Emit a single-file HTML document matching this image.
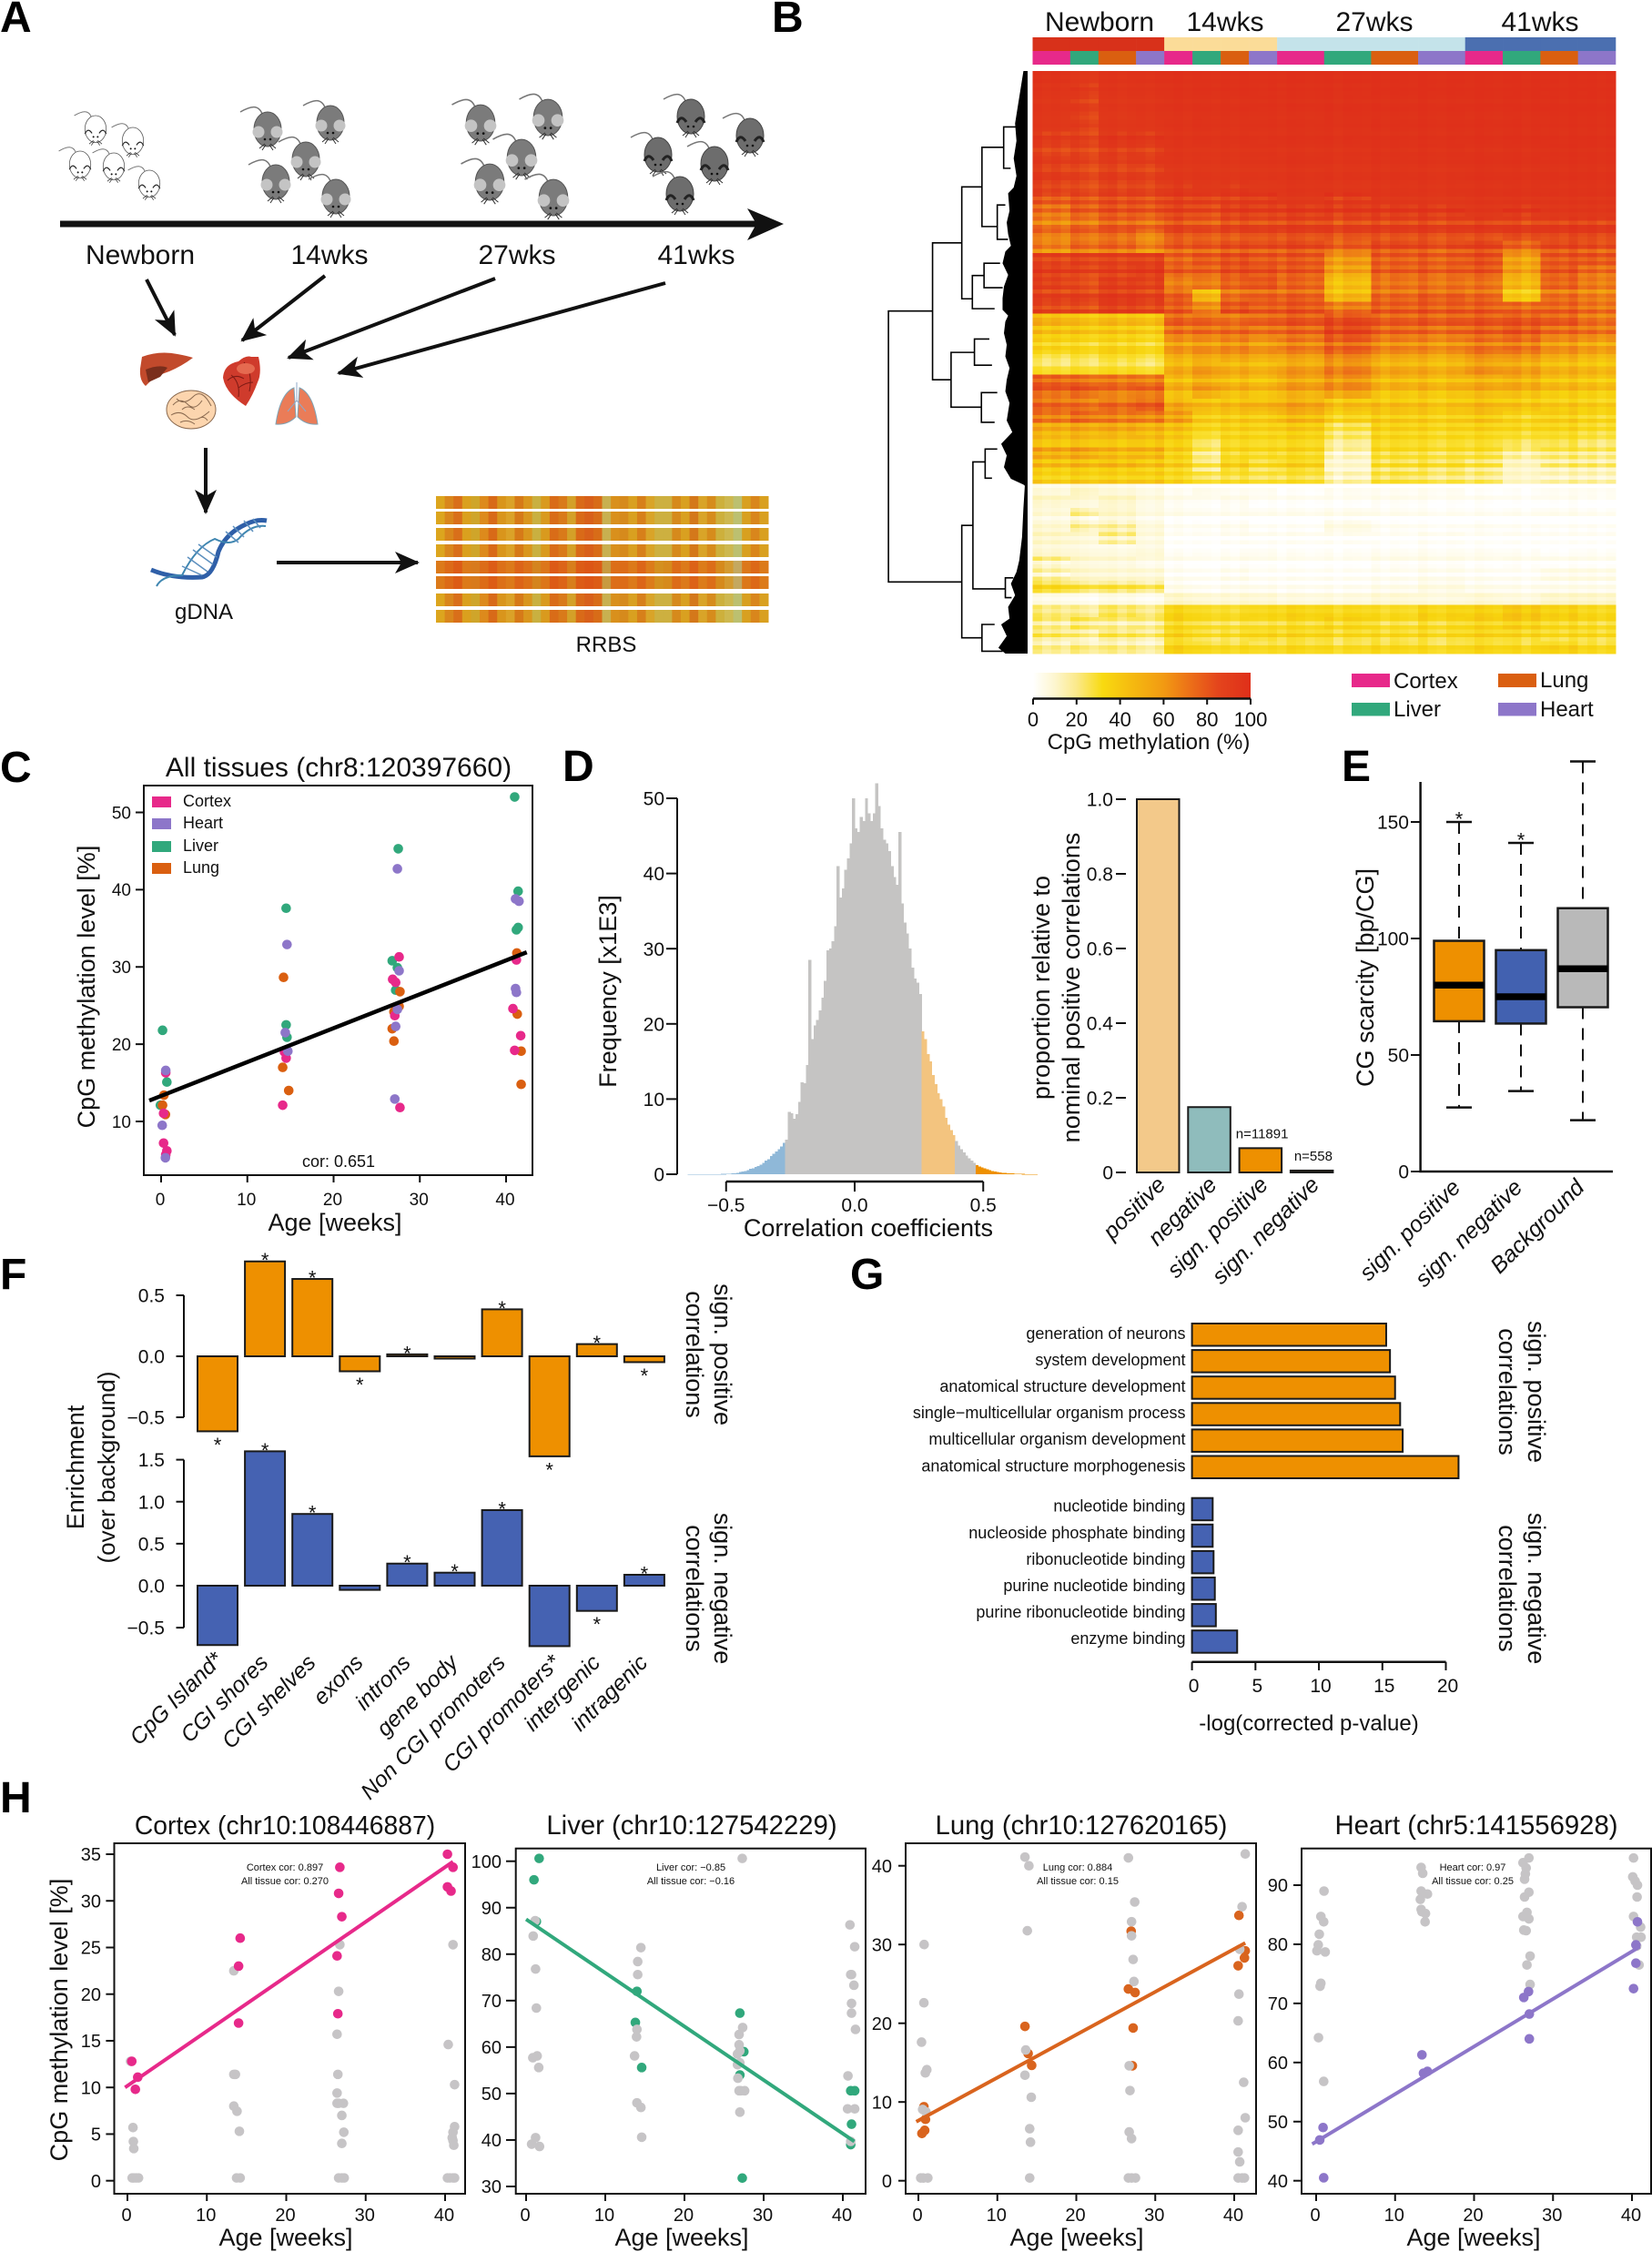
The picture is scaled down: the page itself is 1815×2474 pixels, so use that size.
<!DOCTYPE html>
<html lang="en"><head><meta charset="utf-8"><title>Age-related CpG methylation figure</title>
<style>
html,body{margin:0;padding:0;background:#fff}
svg{display:block}
text{font-family:"Liberation Sans",sans-serif;fill:#111}
.letter{font-size:48px;font-weight:bold;fill:#000}
.t27{font-size:27px}.t30{font-size:30px}.t24{font-size:24px}.t18{font-size:18px}.t11{font-size:11px}.t28{font-size:28.3px}.t29{font-size:29.3px}
.mid{text-anchor:middle}
</style></head><body>
<svg id="figure" xmlns="http://www.w3.org/2000/svg" width="1815" height="2474" viewBox="0 0 1815 2474">
<defs>
<marker id="ah" markerUnits="userSpaceOnUse" markerWidth="30" markerHeight="26" refX="25" refY="12" orient="auto"><path d="M0 0 L27 12 L0 24 L7 12 Z" fill="#111"/></marker>
<linearGradient id="cbar"><stop offset="0" stop-color="#fff"/><stop offset=".1" stop-color="#fdf6cf"/><stop offset=".2" stop-color="#fbe98a"/><stop offset=".32" stop-color="#f8da10"/><stop offset=".45" stop-color="#f5bb10"/><stop offset=".6" stop-color="#f29a12"/><stop offset=".72" stop-color="#ec7018"/><stop offset=".85" stop-color="#e4451c"/><stop offset="1" stop-color="#df2f1a"/></linearGradient>
<g id="mouse-grey"><path d="M-6 -16C-10 -26 -18 -25 -30 -18" fill="none" stroke="#777" stroke-width="1.5"/><ellipse cx="0" cy="1" rx="15" ry="19" fill="#7b7b7b" stroke="#555"/><circle cx="-10" cy="4" r="6.5" fill="#c4c4c4"/><circle cx="10" cy="4" r="6.5" fill="#c4c4c4"/><path d="M-9 22L-3 17M9 22L3 17M-6 24L-2 18M6 24L2 18" stroke="#333" fill="none"/><circle cx="-3" cy="12" r="1.3" fill="#111"/><circle cx="3" cy="12" r="1.3" fill="#111"/></g>
<g id="mouse-dark"><path d="M-6 -16C-10 -26 -18 -25 -30 -18" fill="none" stroke="#777" stroke-width="1.5"/><ellipse cx="0" cy="1" rx="15" ry="19" fill="#6d6d6d" stroke="#444"/><path d="M-15 8Q-11 -2 -5 7M15 8Q11 -2 5 7" stroke="#222" stroke-width="3" fill="none"/><path d="M-9 22L-3 17M9 22L3 17M-6 24L-2 18M6 24L2 18" stroke="#333" fill="none"/><circle cx="-3" cy="12" r="1.3" fill="#111"/><circle cx="3" cy="12" r="1.3" fill="#111"/></g>
<g id="mouse-white"><path d="M-6 -16C-10 -26 -18 -25 -30 -18" fill="none" stroke="#777" stroke-width="1.3"/><ellipse cx="0" cy="1" rx="15" ry="19" fill="#fff" stroke="#555"/><path d="M-15 8Q-11 -2 -5 7M15 8Q11 -2 5 7" stroke="#222" stroke-width="1.5" fill="none"/><path d="M-9 22L-3 17M9 22L3 17M-6 24L-2 18M6 24L2 18" stroke="#333" fill="none"/><circle cx="-3" cy="12" r="1.3" fill="#111"/><circle cx="3" cy="12" r="1.3" fill="#111"/></g>
</defs>

<text class="letter" x="0" y="35">A</text>
<text class="letter" x="848" y="35">B</text>
<text class="letter" x="0" y="859">C</text>
<text class="letter" x="618" y="858">D</text>
<text class="letter" x="1474" y="858">E</text>
<text class="letter" x="0" y="1416">F</text>
<text class="letter" x="934" y="1416">G</text>
<text class="letter" x="0" y="1991">H</text>

<g id="panel-a">
<g>
<use href="#mouse-white" transform="translate(105 141) scale(.78)"/><use href="#mouse-white" transform="translate(146 154) scale(.78)"/><use href="#mouse-white" transform="translate(88 180) scale(.78)"/><use href="#mouse-white" transform="translate(125 182) scale(.78)"/><use href="#mouse-white" transform="translate(164 201) scale(.78)"/></g>
<g>
<use href="#mouse-grey" transform="translate(294 141)"/><use href="#mouse-grey" transform="translate(363 134)"/><use href="#mouse-grey" transform="translate(336 174)"/><use href="#mouse-grey" transform="translate(303 199)"/><use href="#mouse-grey" transform="translate(369 215)"/></g>
<g>
<use href="#mouse-grey" transform="translate(528 134) scale(1.05)"/><use href="#mouse-grey" transform="translate(602 128) scale(1.05)"/><use href="#mouse-grey" transform="translate(573 172) scale(1.05)"/><use href="#mouse-grey" transform="translate(538 199) scale(1.05)"/><use href="#mouse-grey" transform="translate(608 216) scale(1.05)"/></g>
<g>
<use href="#mouse-dark" transform="translate(759 127)"/><use href="#mouse-dark" transform="translate(824 148)"/><use href="#mouse-dark" transform="translate(723 169)"/><use href="#mouse-dark" transform="translate(785 179)"/><use href="#mouse-dark" transform="translate(747 212)"/></g>
<g><rect x="66" y="242.5" width="765" height="7" fill="#111"/><polygon points="821,229 861,246 821,264 831,246" fill="#111"/></g>
<text class="t30 mid" x="154" y="290">Newborn</text>
<text class="t30 mid" x="362" y="290">14wks</text>
<text class="t30 mid" x="568" y="290">27wks</text>
<text class="t30 mid" x="765" y="290">41wks</text>
<g stroke="#111" stroke-width="4">
<line x1="161" y1="307" x2="192" y2="368" marker-end="url(#ah)"/>
<line x1="357" y1="303" x2="266" y2="374" marker-end="url(#ah)"/>
<line x1="544" y1="306" x2="317" y2="393" marker-end="url(#ah)"/>
<line x1="731" y1="311" x2="372" y2="410" marker-end="url(#ah)"/>
<line x1="226" y1="492" x2="226" y2="563" marker-end="url(#ah)"/>
<line x1="304" y1="618" x2="459" y2="618" marker-end="url(#ah)"/>
</g>
<g>
<g><path d="M156 392Q175 385 195 389Q206 391 212 393Q200 402 186 408Q175 412 170 414L160 424Q153 418 154 405Z" fill="#c24a2c"/><path d="M160 406Q175 400 184 404L176 414L163 420Z" fill="#7a2e1c"/></g>
<g><path d="M262 397Q270 390 276 392L284 392Q288 410 283 420Q278 434 270 446Q248 432 245 415Q246 400 262 397Z" fill="#cf3b2c"/><path d="M254 412Q264 420 262 436M268 398Q278 410 274 430M250 418Q258 410 268 416M262 426Q270 420 278 420" stroke="#7d1a14" fill="none"/><ellipse cx="270" cy="405" rx="10" ry="6" fill="#e56a50"/></g>
<g><ellipse cx="210" cy="450" rx="27" ry="21" fill="#fcd5ae" stroke="#8a6a50"/><path d="M190 445Q198 436 206 444T222 440M188 456Q198 450 206 458T230 452M198 464Q206 460 214 466M194 438Q202 446 212 436T232 446M200 450Q206 444 214 450M218 460Q224 456 228 462" stroke="#8a6a50" fill="none"/></g>
<g><path d="M323 426Q308 432 303 466Q316 467 325 458Z" fill="#ea7c58" stroke="#7fa3b5"/><path d="M329 426Q344 432 349 466Q336 467 327 458Z" fill="#ea7c58" stroke="#7fa3b5"/><path d="M326 420V440M326 440L316 452M326 440L336 452" stroke="#8fa8c8" fill="none"/></g>
</g>
<g fill="none">
<path d="M166 626Q190 636 222 634Q234 632 240 606Q248 586 270 576Q282 570 293 572" stroke="#2f5fa8" stroke-width="5"/>
<path d="M172 644Q178 632 200 632Q216 600 236 592Q252 600 262 592Q276 576 292 578" stroke="#3f86b0" stroke-width="2"/>
<path d="M200 622L222 632M206 612L228 628M212 604L234 620M218 598L238 612M248 584L262 596M256 578L268 590M268 572L278 584M278 570L286 580" stroke="#5c8fbe" stroke-width="1.5"/>
</g>
<text class="t24 mid" x="224" y="680">gDNA</text>
<g id="rrbs"></g>
<text class="t24 mid" x="666" y="716">RRBS</text>
</g>

<g id="panel-b">
<text class="t30 mid" x="1208" y="34">Newborn</text>
<text class="t30 mid" x="1346" y="34">14wks</text>
<text class="t30 mid" x="1510" y="34">27wks</text>
<text class="t30 mid" x="1692" y="34">41wks</text>
<g id="heat-headers"></g>
<g id="heat-cells" shape-rendering="crispEdges"></g>
<g id="dendro"></g>
<rect x="1135" y="739" width="239" height="27.5" fill="url(#cbar)"/>
<g id="cbar-axis"></g>
<text class="t24 mid" x="1262" y="823">CpG methylation (%)</text>
<g>
<rect x="1485" y="740" width="42" height="15" fill="#e7298a"/><text class="t24" x="1531" y="756">Cortex</text>
<rect x="1485" y="772" width="42" height="14.5" fill="#31a87c"/><text class="t24" x="1531" y="787">Liver</text>
<rect x="1646" y="740" width="42" height="15" fill="#da5f10"/><text class="t24" x="1692" y="755">Lung</text>
<rect x="1646" y="772" width="42" height="14.5" fill="#8d76c9"/><text class="t24" x="1692" y="787">Heart</text>
</g>
</g>

<g id="panel-c">
<text class="t30 mid" x="372" y="853">All tissues (chr8:120397660)</text>
<rect x="158" y="863" width="427" height="428" fill="none" stroke="#111" stroke-width="2"/>
<g id="c-marks"></g>
<g id="c-axes"></g>
<text class="t27 mid" x="368" y="1352">Age [weeks]</text>
<text class="t27 mid" transform="translate(104 1084) rotate(-90)">CpG methylation level [%]</text>
<text class="t18 mid" x="372" y="1282">cor: 0.651</text>
<g>
<rect x="167" y="875" width="21" height="12" fill="#e7298a"/><text class="t18" x="201" y="886">Cortex</text>
<rect x="167" y="899" width="21" height="12" fill="#8d76c9"/><text class="t18" x="201" y="910">Heart</text>
<rect x="167" y="924" width="21" height="12" fill="#31a87c"/><text class="t18" x="201" y="935">Liver</text>
<rect x="167" y="948" width="21" height="12" fill="#da5f10"/><text class="t18" x="201" y="959">Lung</text>
</g>
</g>

<g id="panel-d">
<g id="d-hist" shape-rendering="crispEdges"></g>
<g id="d-hist-axes"></g>
<text class="t27 mid" x="954" y="1358">Correlation coefficients</text>
<text class="t27 mid" transform="translate(677 1089) rotate(-90)">Frequency [x1E3]</text>
<g id="d-bars"></g>
<text class="t27 mid" transform="translate(1153 1085) rotate(-90)">proportion relative to</text>
<text class="t27 mid" transform="translate(1186 1085) rotate(-90)">nominal positive correlations</text>
</g>

<g id="panel-e">
<g id="e-marks"></g>
<text class="t27 mid" transform="translate(1509 1074) rotate(-90)">CG scarcity [bp/CG]</text>
</g>

<g id="panel-f">
<g id="f-marks"></g>
<text class="t27 mid" transform="translate(92 1612)rotate(-90)">Enrichment</text>
<text class="t27 mid" style="font-size:26px" transform="translate(126 1612) rotate(-90)">(over background)</text>
<text class="t27 mid" transform="translate(785 1488) rotate(90)">sign. positive</text>
<text class="t27 mid" transform="translate(754 1488) rotate(90)">correlations</text>
<text class="t27 mid" transform="translate(785 1745) rotate(90)">sign. negative</text>
<text class="t27 mid" transform="translate(754 1745) rotate(90)">correlations</text>
</g>

<g id="panel-g">
<g id="g-marks"></g>
<text class="t24 mid" x="1438" y="1901">-log(corrected p-value)</text>
<text class="t27 mid" transform="translate(1679 1529) rotate(90)">sign. positive</text>
<text class="t27 mid" transform="translate(1647 1529) rotate(90)">correlations</text>
<text class="t27 mid" transform="translate(1679 1745) rotate(90)">sign. negative</text>
<text class="t27 mid" transform="translate(1647 1745) rotate(90)">correlations</text>
</g>

<g id="panel-h">
<text class="t28 mid" x="313" y="2015">Cortex (chr10:108446887)</text>
<text class="t29 mid" x="760" y="2015">Liver (chr10:127542229)</text>
<text class="t29 mid" x="1188" y="2015">Lung (chr10:127620165)</text>
<text class="t29 mid" x="1622" y="2015">Heart (chr5:141556928)</text>
<rect x="125.5" y="2025" width="385.5" height="385" fill="none" stroke="#111" stroke-width="2"/>
<rect x="566.7" y="2030.7" width="384.3" height="379.3" fill="none" stroke="#111" stroke-width="2"/>
<rect x="995" y="2025" width="385" height="385" fill="none" stroke="#111" stroke-width="2"/>
<rect x="1430" y="2030.7" width="384" height="379.3" fill="none" stroke="#111" stroke-width="2"/>
<g id="h-marks"></g>
<text class="t27 mid" transform="translate(74 2219) rotate(-90)">CpG methylation level [%]</text>
<text class="t27 mid" x="314" y="2467">Age [weeks]</text>
<text class="t27 mid" x="749" y="2467">Age [weeks]</text>
<text class="t27 mid" x="1183" y="2467">Age [weeks]</text>
<text class="t27 mid" x="1619" y="2467">Age [weeks]</text>
<text class="t11 mid" x="313" y="2055">Cortex cor: 0.897</text>
<text class="t11 mid" x="313" y="2070">All tissue cor: 0.270</text>
<text class="t11 mid" x="759" y="2055">Liver cor: −0.85</text>
<text class="t11 mid" x="759" y="2070">All tissue cor: −0.16</text>
<text class="t11 mid" x="1184" y="2055">Lung cor: 0.884</text>
<text class="t11 mid" x="1184" y="2070">All tissue cor: 0.15</text>
<text class="t11 mid" x="1618" y="2055">Heart cor: 0.97</text>
<text class="t11 mid" x="1618" y="2070">All tissue cor: 0.25</text>
</g>
</svg>

<script>
// ---------- Panel A ----------
const rrbsGold=['#dca51e','#d9861c','#d96f1a','#daa01e','#cfa52a','#dd8a1c','#d86a18','#d9951c','#dba228','#d67a18','#d9961e','#c9b040','#d99a1e','#d96c18','#d97a1a','#d4a028','#d96a18','#d8601a','#d86c18','#c8b050','#d9901c','#d68a1c','#d9a020','#d7801a','#d9a428','#cdb040','#cdb040','#d68a1c','#d9a020','#d4781a','#d9a428','#d68c1c','#cdb03c','#cdb850','#bcc070','#d8a020','#d9861c','#d9a020'];
const rrbsOrange=['#dc7a1a','#dc6a18','#dc5c16','#dc7a1a','#d87a1c','#dc6c18','#dc5c16','#dc7018','#dc7a1a','#dc6418','#dc7018','#d4841e','#dc761a','#dc5a16','#dc6418','#d87e1c','#dc5c16','#dc5616','#dc5c16','#c89a40','#dc6e18','#dc6c18','#dc7a1a','#dc6618','#dc7c1a','#d4901e','#d68a1c','#dc6c18','#dc7a1a','#dc6218','#dc7c1a','#dc6e18','#d68a1c','#d49a30','#c4a860','#dc781a','#dc6818','#dc7a1a'];
const rrbsRowTops=[545,562,580,598,616,633,652,670];
const rrbsRowStyle=[0,0,0,0,1,1,0,0];
// ---------- Panel B ----------
const heatSamples=[4,3,4,3,3,3,3,3,5,5,5,5,4,4,4,4];
const heatValues=[
[97,93,96,97,98,98,98,98,99,99,99,99,99,99,99,99],
[95,92,95,96,97,98,98,98,98,98,99,99,99,99,99,99],
[94,90,94,95,97,97,97,98,98,98,98,98,99,99,99,99],
[94,90,93,95,96,97,97,97,97,98,98,98,98,98,99,99],
[93,90,93,94,96,97,96,97,97,97,98,98,98,98,98,98],
[90,88,92,92,95,96,96,96,97,97,97,97,98,98,98,98],
[88,88,90,90,95,95,95,96,96,96,97,97,97,97,98,98],
[90,88,88,90,94,94,94,95,96,95,96,96,97,97,97,97],
[90,87,88,88,93,94,93,94,95,95,96,95,97,96,97,97],
[88,86,87,88,92,93,92,93,95,94,95,95,96,96,96,96],
[82,84,85,85,90,90,90,92,93,92,94,93,95,95,95,95],
[72,78,80,80,86,84,88,88,90,90,91,91,93,92,93,93],
[70,74,78,76,84,82,85,85,88,86,88,88,90,88,90,90],
[72,76,76,70,82,82,82,84,85,84,85,85,86,87,88,88],
[66,72,72,66,76,78,80,80,82,75,82,80,84,72,82,80],
[88,90,88,90,78,82,84,82,82,64,80,80,84,60,82,82],
[90,88,88,92,78,78,82,82,80,58,78,78,80,58,80,74],
[88,84,88,88,68,70,76,80,76,48,72,72,72,50,76,70],
[88,88,90,88,76,50,72,76,76,50,74,76,74,42,72,68],
[85,84,88,86,78,66,80,78,80,70,78,78,78,74,76,72],
[52,48,48,48,76,76,72,76,80,84,78,78,80,80,78,72],
[45,44,42,40,70,72,72,70,74,84,74,72,76,78,72,70],
[40,38,38,36,62,64,66,62,70,78,68,66,72,72,64,60],
[30,32,34,32,56,60,60,58,62,70,60,58,66,64,58,54],
[28,30,30,28,52,58,52,50,58,66,54,52,60,56,50,48],
[78,76,72,72,50,56,50,48,58,64,52,50,54,54,48,46],
[76,78,70,74,50,58,50,48,56,60,48,48,52,50,46,44],
[74,72,72,78,54,48,48,50,56,46,46,44,48,44,42,40],
[72,76,70,70,60,44,44,44,52,40,44,42,46,38,42,38],
[54,56,54,52,46,36,38,38,42,26,38,36,38,34,36,32],
[48,50,46,48,42,28,36,36,38,22,36,34,34,28,30,26],
[56,58,50,52,40,22,34,34,36,14,32,30,30,18,24,22],
[46,48,46,44,38,24,36,30,36,10,28,28,24,12,18,18],
[40,42,40,42,36,28,30,28,30,14,28,24,22,12,14,14],
[8,12,8,6,2,4,2,2,0,2,2,2,0,0,2,2],
[12,10,12,8,4,3,4,2,2,2,3,2,2,1,2,1],
[8,14,10,6,3,2,2,2,2,3,2,1,1,1,2,1],
[10,16,14,8,2,2,3,1,1,6,2,1,2,1,1,1],
[12,10,16,8,1,1,2,2,2,2,1,2,1,1,1,1],
[10,8,6,8,1,1,1,2,1,1,2,2,2,1,0,1],
[14,10,8,6,2,1,2,2,1,1,3,3,2,2,2,2],
[16,12,10,10,3,2,4,2,2,2,3,4,3,2,6,6],
[32,26,24,22,4,2,3,3,2,2,4,6,4,3,4,4],
[6,4,6,4,12,10,10,10,8,8,10,8,10,8,12,12],
[22,20,24,22,38,34,32,36,38,36,34,38,40,44,40,36],
[20,24,18,20,36,32,30,32,34,36,32,34,38,40,36,34],
[22,18,22,20,36,30,30,34,34,32,32,32,36,34,32,32],
[18,20,18,16,38,34,32,32,34,32,34,32,36,34,38,34]];
const heatRowStreak=[
2,-3,1,-2,3,0,1,-4,2,3,-1,-3,0,2,-2,-3,4,1,2,-5,0,1,3,-2,-4,2,3,0,-3,1,5,-6,2,-2,7,-4,
3,-8,5,6,-3,-5,2,8,-7,4,-6,1,-3,6,-5,2,-2,4,-7,5,1,3,-4,7,-6,2,5,-3,8,-5,4,-9,3,7,-2,-6,
-5,4,6,2,-7,3,8,-4,-3,-6,7,1,3,-8,4,-2,6,-5,5,-3,-4,7,-6,2,-4,9,-7,3,-5,6,-8,4,2,6,-3,-5,
2,9,-8,-4,6,-1,7,-7,3,-5,2,5,10,-6,-2,4,-9,6,-7,8,-2,3,-5,4,1,-2,3,6,-7,4,-3,8,-5,-6,5,2];
const heatSampleNudge=[3,-2,1,-3,2,-1,-4,1,3,-2,2,0,-3,2,-1,3,-2,1,0,-3,2,-2,3,0,-1,2,-3,3,1,-2,0,3,-4,2,1,-1,3,-3,2,0,-2,4,-1,-3,2,1,-2,3,0,-2,1,3,-3,2,-1,1,-2,3,-1,2,-3,1];
const heatStopValues=[0,10,20,30,40,50,60,70,80,90,100];
const heatStopColors=[[255,255,255],[254,248,214],[252,238,150],[250,224,50],[247,212,14],[245,188,16],[242,160,16],[238,126,22],[232,86,26],[224,59,26],[223,47,26]];
const ageGroupColors=['#d8311a','#fbdc98','#c4e3ea','#4b6fb0'];
const tissueColors=['#e7298a','#31a87c','#da5f10','#8d76c9'];
const colorbarTicks=[0,20,40,60,80,100];
const dendroHeight=[100,68.3,47.3,32.8,17.2,21.8,39.7,31.3,55,38.2,33.2,47.3,39.3,30.5,16,32.8];
const dendroFromRow=[41.2,29.5,19.9,13.1,9.6,23,35.1,33,48.3,46,55.2,78,67.1,64.9,87,95];
const dendroToRow=[87.7,53,39.1,26.7,16.7,28.9,40.8,37.2,57.7,50.5,60.3,97.3,88.9,69.9,90.4,99.6];
const dendroFromChild=[68.3,47.3,32.8,17.2,8.4,16,31.3,19.8,38.2,27.5,21.8,39.3,30.5,21.8,10.3,23.7];
const dendroToChild=[47.3,55,39.7,21.8,12.2,14.1,23.7,17.9,33.2,25.6,23.7,32.8,16,25.6,11.5,17.9];
const denseRows=[0,3,6,9,12,15,18,20,21,24,26,28,30,31,33,35,37,39,41,42,43,45,47,49,51,53,55,57,60,62,64,66,68,70,71,71.2,75,80,84,86,88,90,92,94,95,97,99,100];
const denseHeights=[3,5,7,9,8,10,8,10,14,13,15,14,12,16,18,14,17,18,18,14,16,17,15,16,13,15,16,13,15,11,19,15,17,12,3,2,3,4,6,8,12,9,14,13,19,15,21,16];
// ---------- Panel C ----------
const cCortexAge=[.54,.29,.29,.67,.54,14.3,14.5,14.1,27.6,26.85,27.2,27.1,27.7,41.2,40.8,41.7,41];
const cCortexValue=[16.3,11.05,7.2,6.2,5.7,19,18.2,12.1,31.3,28.4,28,23.7,11.8,30.9,24.6,21.1,19.2];
const cHeartAge=[.54,.13,.5,14.6,14.4,14.7,27.4,27.6,27.4,27.2,27.1,41.1,41.5,41.1,41.2];
const cHeartValue=[16.6,9.5,5.3,32.9,21.5,19.1,42.7,29.5,24.5,22.3,12.9,38.8,38.5,27.2,26.7];
const cLiverAge=[.17,.67,-.08,14.5,14.5,14.6,27.5,26.8,27.4,27.2,41,41.4,41.4,41.2];
const cLiverValue=[21.8,15.1,12.1,37.6,22.5,20.9,45.3,30.8,29.9,27,52,39.8,35.1,34.8];
const cLungAge=[.33,.17,.5,14.2,14.1,14.8,27.7,27.6,27,26.8,27,41.25,41.3,41.75,41.75];
const cLungValue=[13.4,12.1,10.9,28.65,17,14,26.8,24.9,24.2,22,20.4,31.8,23.9,19.1,14.8];
const cFitAge=[-1.37,42.4];
const cFitValue=[12.7,31.9];
const cXTicks=[0,10,20,30,40];
const cYTicks=[10,20,30,40,50];
// ---------- Panel D ----------
const histStart=-0.65;
const histBin=0.01;
const histFrequency=[.01,.01,.01,.01,.01,.01,.01,.01,.02,.02,.02,.03,.03,.04,.04,.05,.08,.1,.15,.2,.3,.35,.45,.55,.7,.8,.95,1.1,1.3,1.5,1.8,2,2.4,2.7,3,3.3,3.7,4.2,4.6,8.3,8.1,7.4,8,9.6,12.2,12.1,14.5,28.5,18,19.8,20.5,21.8,23.5,25.7,29.8,30,31,33,41,36.8,38,40.5,42,44,50,46,45.5,47.5,47,50,48,47,48,52,49,46,44.5,44,43,41,39.5,38.5,45.5,36,33.5,32,30,27.5,26,25.5,24,19,18,16,15,13.2,12,10.8,10,9,7.5,6.6,5.9,5.2,4.4,3.8,3.3,2.9,2.5,2.1,1.8,1.5,1.2,1.05,.9,.8,.65,.55,.45,.38,.3,.25,.2,.17,.14,.12,.1,.08,.07,.05,.04,.03,.02,.01,.01,.01];
const histYTicks=[0,10,20,30,40,50];
const histXTicks=[-0.5,0,0.5];
const histXLabels=['−0.5','0.0','0.5'];
const propLabels=['positive','negative','sign. positive','sign. negative'];
const propValues=[1,.175,.065,.005];
const propColors=['#f3c98a','#8fbcbc','#ee9000','#ee9000'];
const propNotes=['','','n=11891','n=558'];
const propTicks=[0,.2,.4,.6,.8,1];
const propTickLabels=['0','0.2','0.4','0.6','0.8','1.0'];
// ---------- Panel E ----------
const boxLabels=['sign. positive','sign. negative','Background'];
const boxLow=[27.5,34.5,22];
const boxQ1=[64.5,63.5,70.5];
const boxMedian=[80,75,87];
const boxQ3=[99,95,113];
const boxHigh=[150,141,176];
const boxColors=['#ee9000','#4261b0','#b9b9b9'];
const boxStars=[1,1,0];
const boxTicks=[0,50,100,150];
// ---------- Panel F ----------
const featureLabels=['CpG Island*','CGI shores','CGI shelves','exons','introns','gene body','Non CGI promoters','CGI promoters*','intergenic','intragenic'];
const enrichPositive=[-.615,.778,.634,-.123,.016,-.019,.385,-.82,.1,-.048];
const enrichNegative=[-.707,1.6,.854,-.05,.263,.155,.9,-.72,-.3,.13];
const starsPositive=[1,1,1,1,1,0,1,1,1,1];
const starsNegative=[0,1,1,0,1,1,1,0,1,1];
const posTicks=[-.5,0,.5];
const posTickLabels=['−0.5','0.0','0.5'];
const negTicks=[-.5,0,.5,1,1.5];
const negTickLabels=['−0.5','0.0','0.5','1.0','1.5'];
// ---------- Panel G ----------
const goPositiveTerms=['generation of neurons','system development','anatomical structure development','single−multicellular organism process','multicellular organism development','anatomical structure morphogenesis'];
const goPositiveValues=[15.3,15.6,16,16.4,16.6,21];
const goNegativeTerms=['nucleotide binding','nucleoside phosphate binding','ribonucleotide binding','purine nucleotide binding','purine ribonucleotide binding','enzyme binding'];
const goNegativeValues=[1.63,1.63,1.7,1.8,1.88,3.56];
const goTicks=[0,5,10,15,20];
// ---------- Panel H ----------
const hXTicks=[0,10,20,30,40];
const hCortexAge=[40.3,26.75,41,40.3,26.6,40.75,27,14.2,26.4,14,26.5,14,.55,1.3,1];
const hCortexValue=[35,33.6,33.6,31.5,30.8,31.05,28.3,26,24.1,23,17.9,16.9,12.8,11.1,9.8];
const hCortexOtherAge=[41,26.75,13.4,26.6,26.4,40.4,.4,13.4,13.6,26.5,41.2,26.4,26.4,26.6,27.2,13.4,13.8,27,.7,41.2,14.1,27.25,41,40.9,41,.75,27,41.1,.8,.6,.8,1.1,1.4,13.75,14.2,26.6,27,27.3,40.3,40.6,41,41.2];
const hCortexOtherValue=[25.3,25.3,22.5,20.3,15.7,14.6,12.8,11.4,11.4,11.4,10.3,9.4,8.3,8.3,8.3,8,7.45,7,5.7,5.8,5.3,5.2,5.2,4.6,4.3,4.2,4,3.8,3.45,.3,.3,.3,.3,.3,.3,.3,.3,.3,.3,.3,.3,.3];
const hCortexFitAge=[-.3,41];
const hCortexFitValue=[10,34.2];
const hCortexTicks=[0,5,10,15,20,25,30,35];
const hLiverAge=[1.65,1,1.3,14,13.8,14.6,27,27.5,27,27.3,41,41.5,41.1,41];
const hLiverValue=[100.6,96,87,72,65.3,55.6,67.3,59,54,31.8,50.6,50.6,43.4,39];
const hLiverOtherAge=[27.3,1.15,.9,1.2,1.3,.85,1.4,1.6,1.2,.7,1.7,14.5,14.1,14.1,14,13.95,13.7,14,14.5,14.6,27.35,26.9,26.9,27,26.7,27,26.7,26.75,26.9,27.1,27.6,27,40.9,41.5,41,41.1,41.4,41.1,41.1,41.6,40.65,40.6,41.5,41];
const hLiverOtherValue=[100.6,87.2,83.9,76.8,68.4,57.7,58.1,55.6,40.5,39.1,38.6,81.4,78.4,75.6,63.8,62.2,58.1,48,47,40.6,64.2,62.7,60.5,59.2,58.5,56.6,56.2,53.3,50.6,50.6,50.6,46,86.3,81.6,75.6,75.6,73.3,69.4,67.3,63.8,53.8,46.7,46.7,39.7];
const hLiverFitAge=[0,41.45];
const hLiverFitValue=[87.5,39.7];
const hLiverTicks=[30,40,50,60,70,80,90,100];
const hLungAge=[40.6,41.4,41.3,40.5,26.95,26.6,27.45,27.2,27.1,13.5,13.9,14.35,.7,.9,.8,.45];
const hLungValue=[33.7,29.2,28.3,27.3,31.7,24.35,23.9,19.4,14.6,19.6,16.15,14.65,9.4,7.8,6.4,6];
const hLungOtherAge=[13.5,14,26.6,41.4,27.4,41,27,27,13.8,.73,27.2,40.7,27.3,40.6,.7,40.5,.4,13.6,1.07,.88,13.5,26.7,41.2,14.3,26.8,.54,.96,41.4,14.1,40.5,26.7,27,14.2,40.5,40.7,.3,.6,1.2,14.1,26.6,27,27.5,40.5,41,41.3];
const hLungOtherValue=[41.1,40,41,41.5,35.4,34.8,32.9,31.1,31.75,30,28.1,29.4,25.3,23.7,22.6,20.3,17.6,16.6,14.1,13.7,13.4,14.6,12.5,10.6,11.45,9.05,8.75,8,6.6,6.4,6.2,5.35,4.9,3.65,2.4,.35,.35,.35,.35,.35,.35,.35,.35,.35,.35];
const hLungFitAge=[-.27,41.4];
const hLungFitValue=[7.5,30.2];
const hLungTicks=[0,10,20,30,40];
const hHeartAge=[.96,.88,.46,13.4,14.1,13.6,26.3,26.9,27,27,40.2,40.5,40.5,40.7];
const hHeartValue=[40.5,49,46.9,61.3,58.5,58.2,71,72,68.2,64,72.5,76.8,79.9,83.8];
const hHeartOtherAge=[26.95,40.2,26.2,26.6,13.3,26.5,13.5,26.4,40.1,40.4,40.7,1,13.3,14.1,13.2,26.95,26.4,40.65,13.3,13.4,13.85,13.8,.6,.96,26.7,26.2,26.95,40.2,26.3,26.6,.4,41.1,41.15,40.6,.27,.1,1.15,40.6,27.1,26.7,40.9,.6,.5,27.1,.3,.96];
const hHeartOtherValue=[94.6,94.6,93.8,92.9,93,91.9,92,91,91.4,90.7,90,89,89,88.5,87.6,88.8,88,88,85.9,85.5,85.2,83.8,84.7,83.8,85.4,84.7,84.3,84.7,82.4,82.3,81.7,82.9,81.2,81.2,79.9,78.9,78.7,79.7,78,76.5,76.5,73.4,72.9,73.2,64.2,56.8];
const hHeartFitAge=[-.5,41];
const hHeartFitValue=[46.2,79.6];
const hHeartTicks=[40,50,60,70,80,90];

const NS='http://www.w3.org/2000/svg';
function make(tag,parent,attrs,content){
  const n=document.createElementNS(NS,tag);
  for(const k in attrs)n.setAttribute(k,attrs[k]);
  if(content!==undefined)n.textContent=content;
  parent.appendChild(n);
  return n;
}
const byId=id=>document.getElementById(id);
const linear=(d0,d1,r0,r1)=>v=>r0+(v-d0)*(r1-r0)/(d1-d0);
const INK='#111';

function axisY(g,scale,ticks,labels,axisX,tickLeft,labelRight,size,withLine){
  if(withLine){
    const line=make('line',g,{x1:axisX,x2:axisX,y1:scale(ticks[0]),y2:scale(ticks[ticks.length-1]),stroke:INK,'stroke-width':2});
    
    
  }
  ticks.forEach((t,i)=>{
    const tick=make('line',g,{x1:tickLeft,x2:axisX,y1:scale(t),y2:scale(t),stroke:INK,'stroke-width':2});
    
    
    const lab=make('text',g,{x:labelRight,y:scale(t)+size*.36,'text-anchor':'end','font-size':size},labels?labels[i]:String(t));
    
    
  });
}
function axisX(g,scale,ticks,labels,axisYpos,tickBottom,baseline,size,withLine,shift){
  if(withLine){
    const line=make('line',g,{x1:scale(ticks[0]),x2:scale(ticks[ticks.length-1]),y1:axisYpos,y2:axisYpos,stroke:INK,'stroke-width':2.5});
    
    
  }
  ticks.forEach((t,i)=>{
    const tick=make('line',g,{x1:scale(t),x2:scale(t),y1:axisYpos,y2:tickBottom,stroke:INK,'stroke-width':2});
    
    
    const lab=make('text',g,{x:scale(t)+(shift||0),y:baseline,'text-anchor':'middle','font-size':size},labels?labels[i]:String(t));
    
    
  });
}
function scatter(g,xs,ys,sx,sy,color){
  xs.forEach((v,i)=>{
    const dot=make('circle',g,{cx:sx(v),cy:sy(ys[i]),r:5.3,fill:color});
    
    
  });
}
function fitLine(g,xs,ys,sx,sy,color,width){
  const fit=make('line',g,{x1:sx(xs[0]),y1:sy(ys[0]),x2:sx(xs[1]),y2:sy(ys[1]),stroke:color,'stroke-width':width});
  
  
}
function slanted(g,x,y,str,size){
  const lab=make('text',g,{x:x,y:y,'text-anchor':'end','font-size':size,'font-style':'italic',transform:`rotate(-45 ${x} ${y})`},str);
  
  
}
function star(g,x,centerY){
  const s=make('text',g,{x:x,y:centerY+12.5,'text-anchor':'middle','font-size':22},'*');
  
  
}

// RRBS tracks
(function(){
  const g=byId('rrbs');
  const stripe=365/rrbsGold.length;
  rrbsRowTops.forEach((top,r)=>{
    const colors=rrbsRowStyle[r]?rrbsOrange:rrbsGold;
    colors.forEach((c,i)=>{
      const band=make('rect',g,{x:479+i*stripe,y:top,width:stripe+.5,height:14,fill:c});
      
      
    });
  });
})();

// Heatmap
function heatColor(v){
  v=Math.max(0,Math.min(100,v));
  let i=0;
  while(i<heatStopValues.length-2&&v>heatStopValues[i+1])i++;
  const f=(v-heatStopValues[i])/(heatStopValues[i+1]-heatStopValues[i]);
  const a=heatStopColors[i],b=heatStopColors[i+1];
  return `rgb(${a.map((c,k)=>Math.round(c+(b[k]-c)*f)).join(',')})`;
}
(function(){
  const total=heatSamples.reduce((a,b)=>a+b,0);
  const sampleX=linear(0,total,1134.5,1775);
  const subRows=heatValues.length*3;
  const rowY=linear(0,subRows,78,718);
  const cells=byId('heat-cells'),head=byId('heat-headers');
  let pos=0;
  heatSamples.forEach((n,c)=>{
    const x0=sampleX(pos),x1=sampleX(pos+n);
    const tissue=make('rect',head,{x:x0,y:56,width:x1-x0+.3,height:15,fill:tissueColors[c%4]});
    
    
    const age=make('rect',head,{x:x0,y:41,width:x1-x0+.3,height:15,fill:ageGroupColors[Math.floor(c/4)]});
    
    
    for(let s=0;s<n;s++){
      const sx0=sampleX(pos+s),sx1=sampleX(pos+s+1);
      heatValues.forEach((row,r)=>{
        const base=row[c];
        const amp=(base>92||base<14)?.35:1;
        for(let t=0;t<3;t++){
          const sub=r*3+t;
          const val=base+amp*((heatRowStreak[sub]||0)+(heatSampleNudge[pos+s]||0));
          const cell=make('rect',cells,{x:sx0,y:rowY(sub),width:sx1-sx0+.5,height:rowY(sub+1)-rowY(sub)+.5,fill:heatColor(val)});
          
          
        }
      });
    }
    pos+=n;
  });
  // colorbar axis
  const cs=linear(0,100,1135,1374);
  axisX(byId('cbar-axis'),cs,colorbarTicks,null,767.5,774,798,22,true,0);
  // dendrogram
  const dx=h=>1129-h*1.529, dy=f=>78+f*6.4;
  const dg=byId('dendro');
  const mass=make('polygon',dg,{fill:'#000',points:denseRows.map((f,i)=>dx(denseHeights[i])+','+dy(f)).concat([dx(0)+','+dy(100),dx(0)+','+dy(0)]).join(' ')});
  
  
  dendroHeight.forEach((h,i)=>{
    const link=make('path',dg,{fill:'none',stroke:'#000','stroke-width':1.6,d:`M${dx(dendroFromChild[i])} ${dy(dendroFromRow[i])}H${dx(h)}V${dy(dendroToRow[i])}H${dx(dendroToChild[i])}`});
    
    
  });
})();

// Panel C
(function(){
  const sx=linear(0,40,177,556), sy=linear(10,50,1232,892.5);
  const g=byId('c-marks');
  scatter(g,cLiverAge,cLiverValue,sx,sy,'#31a87c');
  scatter(g,cLungAge,cLungValue,sx,sy,'#da5f10');
  scatter(g,cCortexAge,cCortexValue,sx,sy,'#e7298a');
  scatter(g,cHeartAge,cHeartValue,sx,sy,'#8d76c9');
  fitLine(g,cFitAge,cFitValue,sx,sy,'#000',4.5);
  const a=byId('c-axes');
  axisX(a,sx,cXTicks,null,1291,1299,1324,19,false,-1);
  axisY(a,sy,cYTicks,null,158,149,144,19,false);
})();

// Panel D histogram
(function(){
  const sx=linear(0,1,939,1221.5), sy=linear(0,50,1290,877);
  const g=byId('d-hist');
  histFrequency.forEach((v,i)=>{
    const corr=histStart+i*histBin;
    let fill='#c5c4c3';
    if(corr<-0.275)fill='#8fb8d8';
    else if(corr>=0.255&&corr<0.385)fill='#f3c47f';
    else if(corr>=0.465)fill='#ee9000';
    const bar=make('rect',g,{x:sx(corr),y:sy(v),width:sx(histBin)-sx(0)+.4,height:Math.max(sy(0)-sy(v),.6),fill:fill});
    
    
  });
  const a=byId('d-hist-axes');
  axisY(a,sy,histYTicks,null,744,732,730,21,true);
  axisX(a,sx,histXTicks,histXLabels,1298,1309,1331,21,true,0);
})();

// Panel D bars
(function(){
  const sy=linear(0,1,1288,878), band=i=>1249+i*56.3;
  const g=byId('d-bars');
  propValues.forEach((v,i)=>{
    const bar=make('rect',g,{x:band(i),y:sy(v),width:46.5,height:sy(0)-sy(v),fill:propColors[i],stroke:'#1a1a1a','stroke-width':2});
    
    
    if(propNotes[i]){
      const note=make('text',g,{x:band(i)+25,y:sy(v)-11,'text-anchor':'middle','font-size':15},propNotes[i]);
      
      
    }
    slanted(g,band(i)+33,1303,propLabels[i],25);
  });
  axisY(g,sy,propTicks,propTickLabels,1237,1226,1223,21,false);
})();

// Panel E
(function(){
  const sy=linear(0,150,1287,903), cx=i=>1603+i*68;
  const g=byId('e-marks');
  boxLabels.forEach((lab,i)=>{
    const c=cx(i);
    [[boxHigh[i],boxQ3[i]],[boxQ1[i],boxLow[i]]].forEach(p=>{
      const w=make('line',g,{x1:c,x2:c,y1:sy(p[0]),y2:sy(p[1]),stroke:INK,'stroke-width':2,'stroke-dasharray':'13 10'});
      
      
    });
    [boxHigh[i],boxLow[i]].forEach(v=>{
      const capLine=make('line',g,{x1:c-14,x2:c+14,y1:sy(v),y2:sy(v),stroke:INK,'stroke-width':2.5});
      
      
    });
    const box=make('rect',g,{x:c-27.5,y:sy(boxQ3[i]),width:55,height:sy(boxQ1[i])-sy(boxQ3[i]),fill:boxColors[i],stroke:'#1a1a1a','stroke-width':2.5});
    
    
    const med=make('line',g,{x1:c-27.5,x2:c+27.5,y1:sy(boxMedian[i]),y2:sy(boxMedian[i]),stroke:'#000','stroke-width':7.5});
    
    
    if(boxStars[i])star(g,c,sy(boxHigh[i])-8);
    slanted(g,c+3,1306,lab,25);
  });
  const ax=make('path',g,{d:'M1560.6 859V1287H1772',fill:'none',stroke:INK,'stroke-width':2.5});
  
  
  axisY(g,sy,boxTicks,null,1560.6,1550,1548,21,false);
})();

// Panel F
(function(){
  const g=byId('f-marks');
  const band=i=>217+i*52.1;
  function row(vals,stars,sy,fill){
    vals.forEach((v,i)=>{
      const top=Math.min(sy(v),sy(0)), bot=Math.max(sy(v),sy(0));
      const bar=make('rect',g,{x:band(i),y:top,width:44,height:bot-top,fill:fill,stroke:'#1a1a1a','stroke-width':2});
      
      
      if(stars[i])star(g,band(i)+22,v>=0?top-6:bot+10);
    });
  }
  const sTop=linear(0,.5,1490,1423), sBot=linear(0,1.5,1742,1603.6);
  row(enrichPositive,starsPositive,sTop,'#ee9000');
  row(enrichNegative,starsNegative,sBot,'#4562b2');
  axisY(g,sTop,posTicks,posTickLabels,202,193.5,181,21,true);
  axisY(g,sBot,negTicks,negTickLabels,202,193.5,181,21,true);
  featureLabels.forEach((lab,i)=>{
    const hasStar=lab.endsWith('*');
    slanted(g,band(i)+(hasStar?(i===0?29:35):27),hasStar?(i===0?1825:1828):1828,lab,24.5);
  });
})();

// Panel G
(function(){
  const g=byId('g-marks');
  const sx=linear(0,20,1309.6,1588.5);
  function group(terms,vals,top,fill,labelDrop){
    vals.forEach((v,i)=>{
      const y=top+i*29.1;
      const bar=make('rect',g,{x:sx(0),y:y,width:sx(v)-sx(0),height:24.5,fill:fill,stroke:'#1a1a1a','stroke-width':2});
      
      
      const lab=make('text',g,{x:1302.5,y:y+labelDrop,'text-anchor':'end','font-size':18},terms[i]);
      
      
    });
  }
  group(goPositiveTerms,goPositiveValues,1454,'#ee9000',16.8);
  group(goNegativeTerms,goNegativeValues,1645.7,'#4562b2',15);
  axisX(g,sx,goTicks,null,1825.7,1835,1859,21,true,2);
})();

// Panel H
function tissuePanel(ages,vals,otherAges,otherVals,fitA,fitV,ticks,sx,sy,color,tickLeft,axisPos,labelRight,greyFirst){
  const g=byId('h-marks');
  if(greyFirst)scatter(g,otherAges,otherVals,sx,sy,'#c6c4c6');
  scatter(g,ages,vals,sx,sy,color);
  if(!greyFirst)scatter(g,otherAges,otherVals,sx,sy,'#c6c4c6');
  fitLine(g,fitA,fitV,sx,sy,color,4);
  axisX(g,sx,hXTicks,null,2410,2418,2440,20,false,-1);
  axisY(g,sy,ticks,null,axisPos,tickLeft,labelRight,20,false);
}
tissuePanel(hCortexAge,hCortexValue,hCortexOtherAge,hCortexOtherValue,hCortexFitAge,hCortexFitValue,hCortexTicks,linear(0,40,140,489),linear(0,35,2395.7,2037),'#e7298a',116.4,125.5,111,true);
tissuePanel(hLiverAge,hLiverValue,hLiverOtherAge,hLiverOtherValue,hLiverFitAge,hLiverFitValue,hLiverTicks,linear(0,40,578,926),linear(30,100,2402,2044.7),'#31a87c',556,566.7,551,false);
tissuePanel(hLungAge,hLungValue,hLungOtherAge,hLungOtherValue,hLungFitAge,hLungFitValue,hLungTicks,linear(0,40,1009,1356),linear(0,40,2395.7,2049.7),'#d9641e',987,995,980,false);
tissuePanel(hHeartAge,hHeartValue,hHeartOtherAge,hHeartOtherValue,hHeartFitAge,hHeartFitValue,hHeartTicks,linear(0,40,1446,1793),linear(40,90,2395.7,2071),'#8d76c9',1421,1430,1415,true);
</script>
</body></html>
